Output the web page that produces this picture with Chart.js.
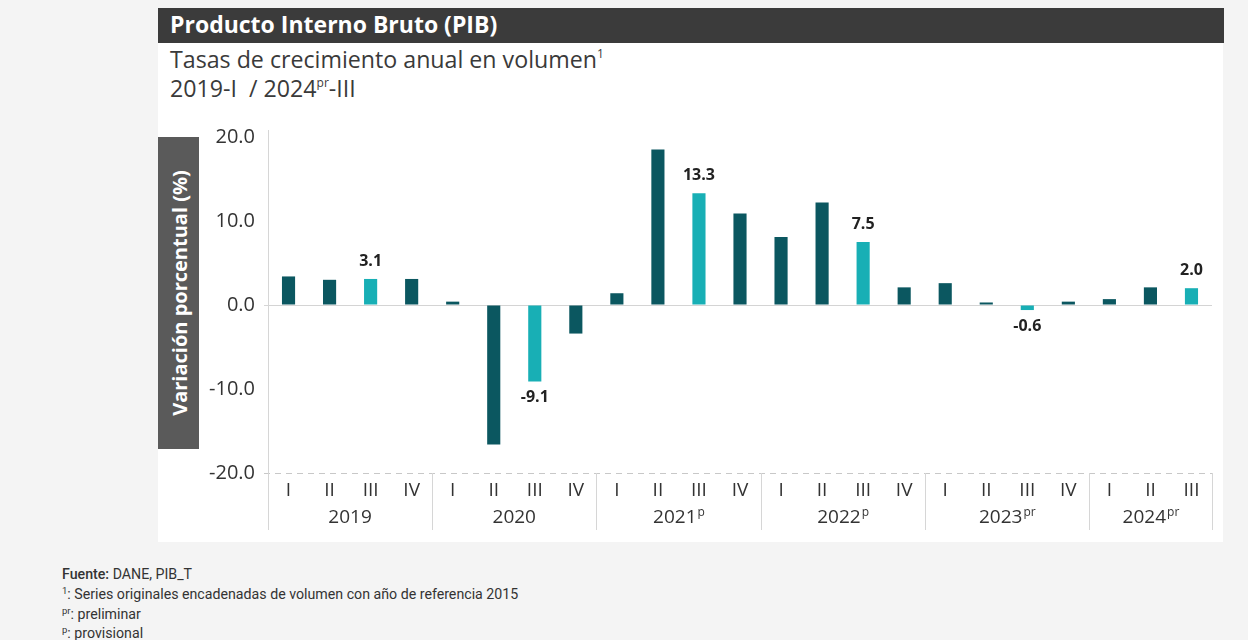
<!DOCTYPE html>
<html>
<head>
<meta charset="utf-8">
<script src="https://cdn.jsdelivr.net/npm/chart.js@4/dist/chart.umd.min.js"></script>
<style>
  html, body { margin:0; padding:0; background:#f4f4f4; width:1248px; height:640px; overflow:hidden; font-family:"Open Sans", sans-serif; }
  #panel { position:absolute; left:158px; top:8px; width:1065px; height:534px; background:#ffffff; }
  #titlebar { position:absolute; left:158px; top:8px; width:1066px; height:35px; background:#3b3b3b; color:#fff; font-weight:700; font-size:23px; line-height:35px; }
  #titlebar span { position:absolute; left:12px; top:-1px; white-space:nowrap; }
  .sub { position:absolute; left:170px; font-size:23.2px; color:#3a3a3a; white-space:nowrap; }
  .sub sup { font-size:12px; vertical-align:0; position:relative; top:-10px; }
  #ytitle { position:absolute; left:158px; top:137px; width:41px; height:312px; background:#5a5a5a; }
  #ytitle span { position:absolute; left:50%; top:50%; transform:translate(-50%,-50%) rotate(-90deg); white-space:nowrap; color:#fff; font-weight:700; font-size:20px; }
  #chart { position:absolute; left:158px; top:120px; }
  .foot { position:absolute; left:62px; font-family:Roboto, sans-serif; font-size:14.2px; color:#333; white-space:nowrap; }
  .foot sup { font-size:9.5px; vertical-align:0; position:relative; top:-5px; }
</style>
</head>
<body>
<div id="panel"></div>
<div id="titlebar"><span>Producto Interno Bruto (PIB)</span></div>
<div class="sub" style="top:43px;">Tasas de crecimiento anual en volumen<sup>1</sup></div>
<div class="sub" style="top:72px;">2019-I&nbsp; / 2024<sup>pr</sup>-III</div>
<div id="ytitle"><span>Variación porcentual (%)</span></div>
<canvas id="chart" width="1064" height="420"></canvas>
<div class="foot" style="top:566px;"><span style="font-weight:500">Fuente:</span> DANE, PIB_T</div>
<div class="foot" style="top:586px;"><sup>1</sup>: Series originales encadenadas de volumen con año de referencia 2015</div>
<div class="foot" style="top:606px;"><sup>pr</sup>: preliminar</div>
<div class="foot" style="top:625px;"><sup>p</sup>: provisional</div>
<script>
const quarters = ["I","II","III","IV","I","II","III","IV","I","II","III","IV","I","II","III","IV","I","II","III","IV","I","II","III"];
const years = ["2019","2020","2021","2022","2023","2024"];
const yearSup = ["","","p","p","pr","pr"];
const yearQuarterCounts = [4,4,4,4,4,3];
const growth = [3.4,3.0,3.1,3.1,0.4,-16.6,-9.1,-3.4,1.4,18.5,13.3,10.9,8.1,12.2,7.5,2.1,2.6,0.3,-0.6,0.4,0.7,2.1,2.0];
const highlighted = [false,false,true,false,false,false,true,false,false,false,true,false,false,false,true,false,false,false,true,false,false,false,true];
const yTicks = [-20,-10,0,10,20];

const DARK = "#0b5760";
const LIGHT = "#18afb5";

const decor = {
  id: "decor",
  afterDraw(chart) {
    const ctx = chart.ctx;
    const xs = chart.scales.x, ys = chart.scales.y;
    const a = chart.chartArea;
    ctx.save();
    const yb = ys.getPixelForValue(-20);
    ctx.strokeStyle = "#c8c8c8";
    ctx.lineWidth = 1;
    ctx.setLineDash([6,5]);
    ctx.beginPath(); ctx.moveTo(a.left - 4, Math.round(yb) + 0.5); ctx.lineTo(a.right, Math.round(yb) + 0.5); ctx.stroke();
    ctx.setLineDash([]);
    ctx.strokeStyle = "#d6d6d6";
    ctx.beginPath(); ctx.moveTo(a.left + 0.5, a.top - 7); ctx.lineTo(a.left + 0.5, 530 - 120); ctx.stroke();
    const y0 = ys.getPixelForValue(0);
    ctx.beginPath(); ctx.moveTo(a.left - 4, Math.round(y0) + 0.5); ctx.lineTo(a.left, Math.round(y0) + 0.5); ctx.stroke();
    const half = (xs.getPixelForValue(1) - xs.getPixelForValue(0)) / 2;
    let idx = 0;
    const bounds = [a.left];
    yearQuarterCounts.forEach(c => { idx += c; bounds.push(xs.getPixelForValue(idx - 1) + half); });
    ctx.strokeStyle = "#d6d6d6";
    bounds.forEach((bx, i) => {
      if (i === 0) return;
      const px = Math.round(bx) + 0.5;
      ctx.beginPath(); ctx.moveTo(px, yb); ctx.lineTo(px, 530 - 120); ctx.stroke();
    });
    ctx.fillStyle = "#333";
    ctx.textBaseline = "middle";
    const yy = 518 - 120;
    years.forEach((yr, i) => {
      const cx = (bounds[i] + bounds[i+1]) / 2;
      ctx.font = "19px 'Open Sans'";
      const w1 = ctx.measureText(yr).width;
      ctx.font = "12px 'Open Sans'";
      const w2 = yearSup[i] ? ctx.measureText(yearSup[i]).width : 0;
      const start = cx - (w1 + w2) / 2;
      ctx.font = "19px 'Open Sans'";
      ctx.textAlign = "left";
      ctx.fillText(yr, start, yy);
      if (yearSup[i]) {
        ctx.font = "12px 'Open Sans'";
        ctx.fillText(yearSup[i], start + w1 + 1, yy - 5);
      }
    });
    const meta = chart.getDatasetMeta(0);
    ctx.font = "bold 16px 'Open Sans'";
    ctx.fillStyle = "#222";
    ctx.textAlign = "center";
    growth.forEach((v, i) => {
      if (!highlighted[i]) return;
      const bar = meta.data[i];
      const ly = v >= 0 ? bar.y - 18 : bar.y + 16;
      ctx.fillText(v.toFixed(1), bar.x, ly);
    });
    ctx.restore();
  }
};

new Chart(document.getElementById("chart"), {
  type: "bar",
  data: {
    labels: quarters,
    datasets: [{
      data: growth,
      backgroundColor: highlighted.map(h => h ? LIGHT : DARK),
      barPercentage: 0.32,
      categoryPercentage: 1.0,
      borderWidth: 0
    }]
  },
  options: {
    responsive: false,
    animation: false,
    layout: { padding: { top: 17, right: 10, bottom: 0, left: 0 } },
    plugins: { legend: { display: false }, tooltip: { enabled: false } },
    scales: {
      x: {
        grid: { display: false, drawTicks: false },
        border: { display: false },
        ticks: { color: "#333", font: { family: "'Open Sans'", size: 19 }, padding: 6, maxRotation: 0, autoSkip: false },
        afterFit(s) { s.height = 67; s.paddingLeft = 0; s.paddingRight = 0; }
      },
      y: {
        min: -20, max: 20,
        afterBuildTicks(s) { s.ticks = yTicks.map(v => ({ value: v })); },
        grid: {
          drawTicks: false,
          color: c => (c.tick && c.tick.value === 0) ? "#d4d4d4" : "rgba(0,0,0,0)"
        },
        border: { display: false },
        ticks: { color: "#333", font: { family: "'Open Sans'", size: 20 }, padding: 13, callback: v => Number(v).toFixed(1) },
        afterFit(s) { s.width = 110; s.paddingTop = 0; s.paddingBottom = 0; }
      }
    }
  },
  plugins: [decor]
});
</script>
</body>
</html>
